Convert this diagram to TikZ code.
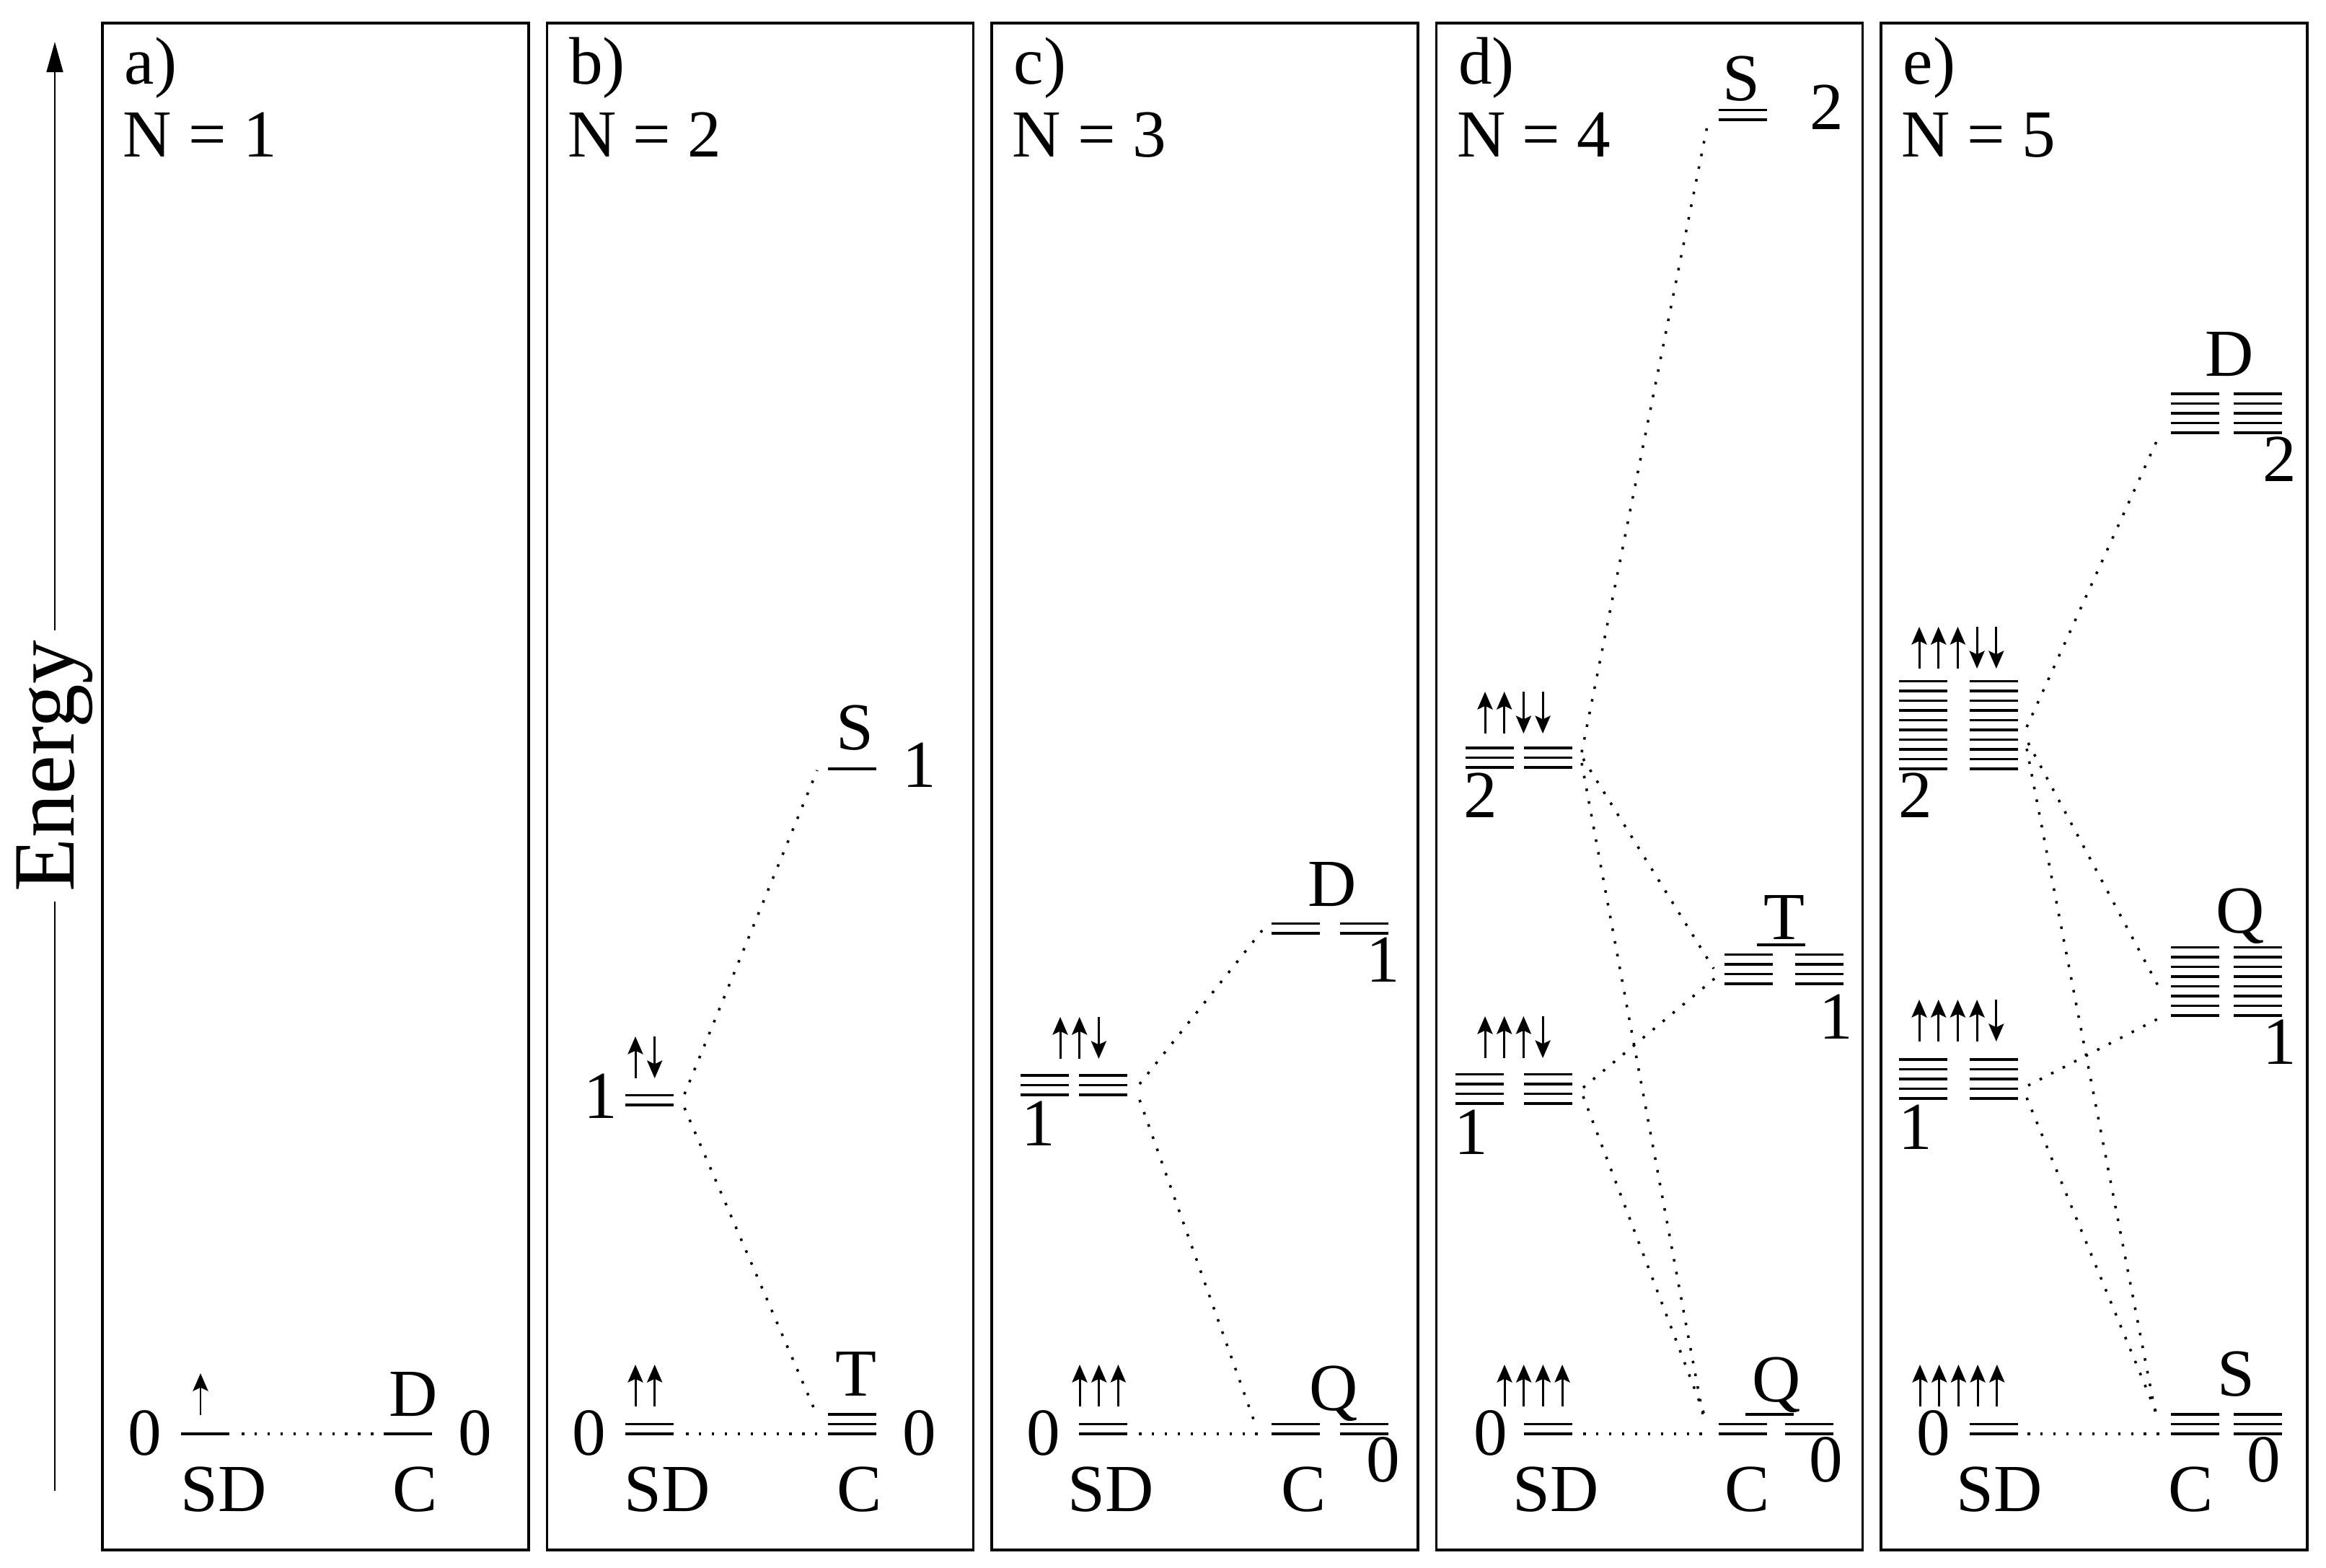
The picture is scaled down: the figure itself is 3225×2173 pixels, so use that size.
\documentclass[tikz,border=0pt]{standalone}
\usepackage{fontspec}
\setmainfont{Liberation Serif}
\usetikzlibrary{arrows.meta}
\tikzset{
  lvl/.style={line width=1pt},
  conn/.style={line width=1pt, dash pattern=on 1pt off 4.1pt},
  spin/.style={line width=0.85pt, -{Stealth[length=7pt,width=6pt,inset=1.4pt]}},
  lab/.style={font=\fontsize{26.5}{31}\selectfont, inner sep=0pt, anchor=base},
  tag/.style={lab, anchor=base west},
  panel/.style={line width=1.1pt},
}
\newcommand\lvstack[3]{\foreach \k in {1,...,#3}{\draw[lvl] (#1,{#2-(\k-1)*13.5}) -- ++(67,0);}}
\newcommand\spinrow[3]{\foreach \s [count=\j from 0] in {#3}{\draw[spin] ({#1+\j*26.7},{#2-29-\s*29}) -- ++(0,{\s*58});}}
\begin{document}
\begin{tikzpicture}[x=0.01cm,y=-0.01cm]
\useasboundingbox (0,0) rectangle (3225,2173);
% energy axis
\coordinate (ax0) at (76,2067);
\coordinate (ax1) at (76,58);
\draw[line width=0.7pt, -{Triangle[length=12pt,width=6.5pt]}] (ax0) -- (ax1);
\node[rotate=90, fill=white, font=\fontsize{34.5}{40}\selectfont, inner sep=4pt] (energy) at (76,1062) {Energy};

% ---------------- panel a
\draw[panel] (142,32) rectangle (733,2149);
\node[tag] (a-tag) at (172,117) {a)};
\node[tag] (a-N) at (170,218) {N = 1};
\lvstack{251}{1988}{1}
\lvstack{532}{1988}{1}
\spinrow{278}{1962}{-1}
\node[lab] (a-0l) at (201,2017) {0};
\node[lab] (a-0r) at (659,2017) {0};
\node[lab] (a-D) at (573,1963) {D};
\node[lab] (a-SD) at (310,2095) {SD};
\node[lab] (a-C) at (576,2095) {C};
\coordinate (a0e) at (335,1988);
\coordinate (aCw) at (521,1988);
\draw[conn] (a0e) -- (aCw);

% ---------------- panel b
\draw[panel] (758.5,32) rectangle (1349.5,2149);
\node[tag] (b-tag) at (788.5,117) {b)};
\node[tag] (b-N) at (786.5,218) {N = 2};
\lvstack{867}{1988}{2}
\lvstack{1148}{1988}{3}
\lvstack{867}{1532}{2}
\lvstack{1148}{1066}{1}
\spinrow{881}{1950}{-1,-1}
\spinrow{881}{1495}{-1,1}
\node[lab] (b-0l) at (817,2017) {0};
\node[lab] (b-0r) at (1275,2017) {0};
\node[lab] (b-T) at (1187,1935) {T};
\node[lab] (b-SD) at (925,2095) {SD};
\node[lab] (b-C) at (1192,2095) {C};
\node[lab] (b-1l) at (833,1550) {1};
\node[lab] (b-S) at (1185,1039) {S};
\node[lab] (b-1r) at (1275,1091) {1};
\coordinate (b0e) at (951,1988);
\coordinate (bCw) at (1133,1988);
\coordinate (b1u) at (949,1517);
\coordinate (bSw) at (1133,1068);
\coordinate (b1d) at (949,1536);
\coordinate (bCt) at (1133,1963);
\draw[conn] (b0e) -- (bCw);
\draw[conn] (b1u) -- (bSw);
\draw[conn] (b1d) -- (bCt);

% ---------------- panel c
\draw[panel] (1375,32) rectangle (1966,2149);
\node[tag] (c-tag) at (1405,117) {c)};
\node[tag] (c-N) at (1403,218) {N = 3};
\lvstack{1496}{1988}{2}
\lvstack{1763}{1988}{2}
\lvstack{1858}{1988}{2}
\lvstack{1415}{1518}{3}
\lvstack{1496}{1518}{3}
\lvstack{1763}{1294}{2}
\lvstack{1858}{1294}{2}
\spinrow{1497}{1950}{-1,-1,-1}
\spinrow{1470}{1468}{-1,-1,1}
\node[lab] (c-0l) at (1447,2017) {0};
\node[lab] (c-Q) at (1849,1955) {Q};
\node[lab] (c-0r) at (1918,2054) {0};
\node[lab] (c-SD) at (1540,2095) {SD};
\node[lab] (c-C) at (1808,2095) {C};
\node[lab] (c-1l) at (1440,1588) {1};
\node[lab] (c-D) at (1847,1256) {D};
\node[lab] (c-1r) at (1918,1361) {1};
\coordinate (c0e) at (1579,1988);
\coordinate (cCw) at (1747,1988);
\coordinate (c1u) at (1580,1503);
\coordinate (cDw) at (1750,1290);
\coordinate (c1d) at (1580,1525);
\coordinate (cCt) at (1738,1968);
\draw[conn] (c0e) -- (cCw);
\draw[conn] (c1u) -- (cDw);
\draw[conn] (c1d) -- (cCt);

% ---------------- panel d
\draw[panel] (1991.5,32) rectangle (2582.5,2149);
\node[tag] (d-tag) at (2021.5,117) {d)};
\node[tag] (d-N) at (2019.5,218) {N = 4};
\lvstack{2113}{1988}{2}
\lvstack{2383}{1988}{2}
\lvstack{2475}{1988}{2}
\lvstack{2420}{1961}{1}
\lvstack{2018}{1530}{4}
\lvstack{2113}{1530}{4}
\lvstack{2032}{1064}{3}
\lvstack{2113}{1064}{3}
\lvstack{2391}{1364}{4}
\lvstack{2489}{1364}{4}
\lvstack{2436}{1310}{1}
\lvstack{2383}{166}{2}
\spinrow{2086}{1950}{-1,-1,-1,-1}
\spinrow{2059}{1467}{-1,-1,-1,1}
\spinrow{2059}{1017}{-1,-1,1,1}
\node[lab] (d-0l) at (2067,2017) {0};
\node[lab] (d-Q) at (2463,1943) {Q};
\node[lab] (d-0r) at (2532,2054) {0};
\node[lab] (d-SD) at (2157,2095) {SD};
\node[lab] (d-C) at (2423,2095) {C};
\node[lab] (d-1l) at (2040,1600) {1};
\node[lab] (d-2l) at (2053,1133) {2};
\node[lab] (d-T) at (2474,1302) {T};
\node[lab] (d-1r) at (2546,1440) {1};
\node[lab] (d-S) at (2414,140) {S};
\node[lab] (d-2r) at (2533,180) {2};
\coordinate (d0e) at (2195,1988);
\coordinate (dCw) at (2362,1988);
\coordinate (d2a) at (2193,1043);
\coordinate (dSw) at (2368,170);
\coordinate (d2b) at (2195,1052);
\coordinate (dTa) at (2376,1343);
\coordinate (d2c) at (2193,1058);
\coordinate (dCt1) at (2362,1967);
\coordinate (d1a) at (2195,1508);
\coordinate (dTb) at (2378,1356);
\coordinate (d1b) at (2195,1520);
\coordinate (dCt2) at (2366,1969);
\draw[conn] (d0e) -- (dCw);
\draw[conn] (d2a) -- (dSw);
\draw[conn] (d2b) -- (dTa);
\draw[conn] (d2c) -- (dCt1);
\draw[conn] (d1a) -- (dTb);
\draw[conn] (d1b) -- (dCt2);

% ---------------- panel e
\draw[panel] (2608,32) rectangle (3199,2149);
\node[tag] (e-tag) at (2638,117) {e)};
\node[tag] (e-N) at (2636,218) {N = 5};
\lvstack{2731}{1988}{2}
\lvstack{3010}{1988}{3}
\lvstack{3097}{1988}{3}
\lvstack{2633}{1523}{5}
\lvstack{2731}{1523}{5}
\lvstack{2633}{1066}{10}
\lvstack{2731}{1066}{10}
\lvstack{3010}{1408}{8}
\lvstack{3097}{1408}{8}
\lvstack{3010}{600}{5}
\lvstack{3097}{600}{5}
\spinrow{2662}{1950}{-1,-1,-1,-1,-1}
\spinrow{2661}{1444}{-1,-1,-1,-1,1}
\spinrow{2661}{927}{-1,-1,-1,1,1}
\node[lab] (e-0l) at (2681,2017) {0};
\node[lab] (e-S) at (3100,1935) {S};
\node[lab] (e-0r) at (3139,2054) {0};
\node[lab] (e-SD) at (2772,2095) {SD};
\node[lab] (e-C) at (3038,2095) {C};
\node[lab] (e-1l) at (2656,1593) {1};
\node[lab] (e-2l) at (2656,1133) {2};
\node[lab] (e-Q) at (3106,1293) {Q};
\node[lab] (e-1r) at (3161,1475) {1};
\node[lab] (e-D) at (3091,521) {D};
\node[lab] (e-2r) at (3161,667) {2};
\coordinate (e0e) at (2811,1988);
\coordinate (eCw) at (2995,1988);
\coordinate (e2a) at (2810,1008);
\coordinate (eDw) at (2990,612);
\coordinate (e2b) at (2812,1030);
\coordinate (eQa) at (2995,1372);
\coordinate (e2c) at (2810,1038);
\coordinate (eCt1) at (2990,1967);
\coordinate (e1a) at (2812,1505);
\coordinate (eQb) at (2993,1412);
\coordinate (e1b) at (2810,1522);
\coordinate (eCt2) at (2994,1969);
\draw[conn] (e0e) -- (eCw);
\draw[conn] (e2a) -- (eDw);
\draw[conn] (e2b) -- (eQa);
\draw[conn] (e2c) -- (eCt1);
\draw[conn] (e1a) -- (eQb);
\draw[conn] (e1b) -- (eCt2);
\end{tikzpicture}
\end{document}
